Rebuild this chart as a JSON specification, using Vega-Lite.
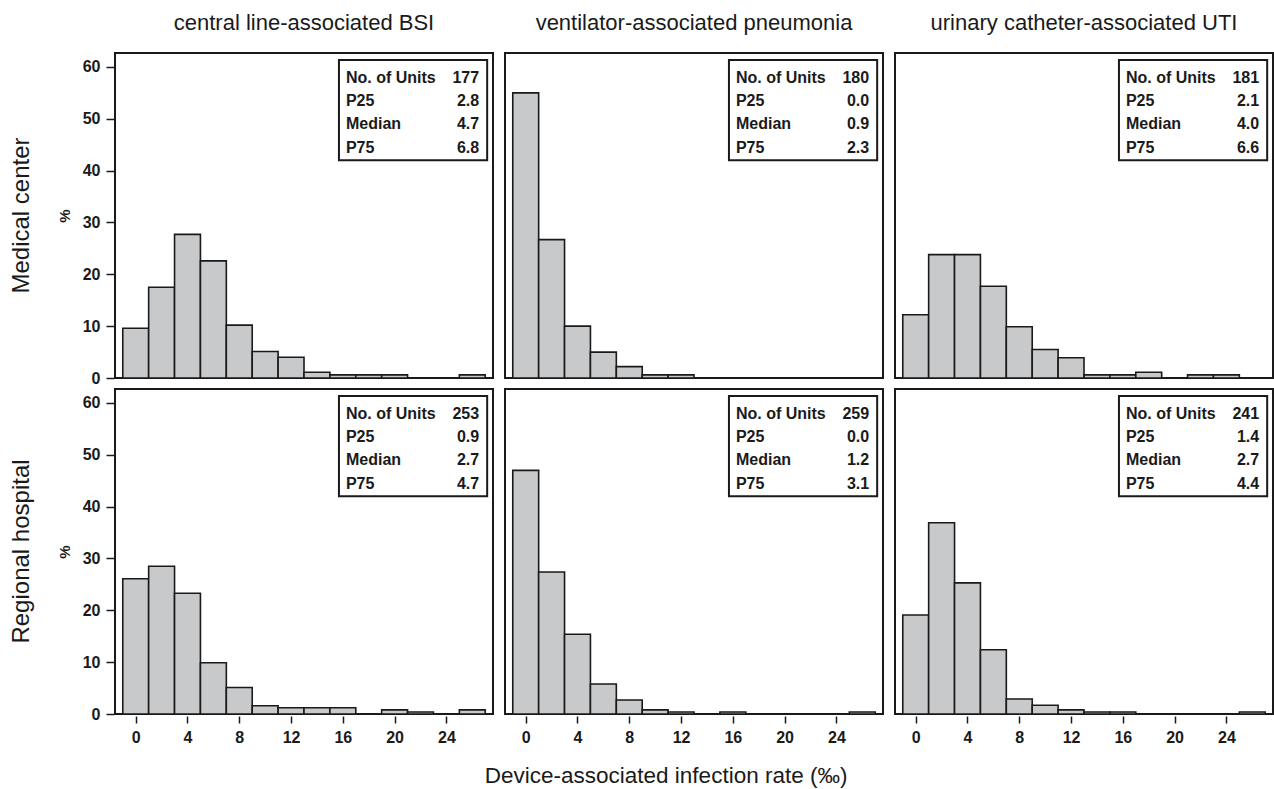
{
  "$schema": "https://vega.github.io/schema/vega-lite/v6.json",
  "padding": {"left": 10, "top": 12, "right": 2, "bottom": 4},
  "background": "white",
  "title": {"text": "Device-associated infection rate (‰)", "orient": "bottom", "anchor": "middle", "fontSize": 22.5, "fontWeight": "normal", "font": "Liberation Sans", "color": "#1a1a1a", "offset": 20, "dx": 24},
  "data": {"values": [
    {"kind": "bar", "facility": "Medical center", "device": "central line-associated BSI", "lo": -1, "hi": 1, "pct": 9.6},
    {"kind": "bar", "facility": "Medical center", "device": "central line-associated BSI", "lo": 1, "hi": 3, "pct": 17.5},
    {"kind": "bar", "facility": "Medical center", "device": "central line-associated BSI", "lo": 3, "hi": 5, "pct": 27.7},
    {"kind": "bar", "facility": "Medical center", "device": "central line-associated BSI", "lo": 5, "hi": 7, "pct": 22.6},
    {"kind": "bar", "facility": "Medical center", "device": "central line-associated BSI", "lo": 7, "hi": 9, "pct": 10.2},
    {"kind": "bar", "facility": "Medical center", "device": "central line-associated BSI", "lo": 9, "hi": 11, "pct": 5.1},
    {"kind": "bar", "facility": "Medical center", "device": "central line-associated BSI", "lo": 11, "hi": 13, "pct": 4.0},
    {"kind": "bar", "facility": "Medical center", "device": "central line-associated BSI", "lo": 13, "hi": 15, "pct": 1.1},
    {"kind": "bar", "facility": "Medical center", "device": "central line-associated BSI", "lo": 15, "hi": 17, "pct": 0.6},
    {"kind": "bar", "facility": "Medical center", "device": "central line-associated BSI", "lo": 17, "hi": 19, "pct": 0.6},
    {"kind": "bar", "facility": "Medical center", "device": "central line-associated BSI", "lo": 19, "hi": 21, "pct": 0.6},
    {"kind": "bar", "facility": "Medical center", "device": "central line-associated BSI", "lo": 25, "hi": 27, "pct": 0.6},
    {"kind": "bar", "facility": "Medical center", "device": "ventilator-associated pneumonia", "lo": -1, "hi": 1, "pct": 55.0},
    {"kind": "bar", "facility": "Medical center", "device": "ventilator-associated pneumonia", "lo": 1, "hi": 3, "pct": 26.7},
    {"kind": "bar", "facility": "Medical center", "device": "ventilator-associated pneumonia", "lo": 3, "hi": 5, "pct": 10.0},
    {"kind": "bar", "facility": "Medical center", "device": "ventilator-associated pneumonia", "lo": 5, "hi": 7, "pct": 5.0},
    {"kind": "bar", "facility": "Medical center", "device": "ventilator-associated pneumonia", "lo": 7, "hi": 9, "pct": 2.2},
    {"kind": "bar", "facility": "Medical center", "device": "ventilator-associated pneumonia", "lo": 9, "hi": 11, "pct": 0.6},
    {"kind": "bar", "facility": "Medical center", "device": "ventilator-associated pneumonia", "lo": 11, "hi": 13, "pct": 0.6},
    {"kind": "bar", "facility": "Medical center", "device": "urinary catheter-associated UTI", "lo": -1, "hi": 1, "pct": 12.2},
    {"kind": "bar", "facility": "Medical center", "device": "urinary catheter-associated UTI", "lo": 1, "hi": 3, "pct": 23.8},
    {"kind": "bar", "facility": "Medical center", "device": "urinary catheter-associated UTI", "lo": 3, "hi": 5, "pct": 23.8},
    {"kind": "bar", "facility": "Medical center", "device": "urinary catheter-associated UTI", "lo": 5, "hi": 7, "pct": 17.7},
    {"kind": "bar", "facility": "Medical center", "device": "urinary catheter-associated UTI", "lo": 7, "hi": 9, "pct": 9.9},
    {"kind": "bar", "facility": "Medical center", "device": "urinary catheter-associated UTI", "lo": 9, "hi": 11, "pct": 5.5},
    {"kind": "bar", "facility": "Medical center", "device": "urinary catheter-associated UTI", "lo": 11, "hi": 13, "pct": 3.9},
    {"kind": "bar", "facility": "Medical center", "device": "urinary catheter-associated UTI", "lo": 13, "hi": 15, "pct": 0.6},
    {"kind": "bar", "facility": "Medical center", "device": "urinary catheter-associated UTI", "lo": 15, "hi": 17, "pct": 0.6},
    {"kind": "bar", "facility": "Medical center", "device": "urinary catheter-associated UTI", "lo": 17, "hi": 19, "pct": 1.1},
    {"kind": "bar", "facility": "Medical center", "device": "urinary catheter-associated UTI", "lo": 21, "hi": 23, "pct": 0.6},
    {"kind": "bar", "facility": "Medical center", "device": "urinary catheter-associated UTI", "lo": 23, "hi": 25, "pct": 0.6},
    {"kind": "bar", "facility": "Regional hospital", "device": "central line-associated BSI", "lo": -1, "hi": 1, "pct": 26.1},
    {"kind": "bar", "facility": "Regional hospital", "device": "central line-associated BSI", "lo": 1, "hi": 3, "pct": 28.5},
    {"kind": "bar", "facility": "Regional hospital", "device": "central line-associated BSI", "lo": 3, "hi": 5, "pct": 23.3},
    {"kind": "bar", "facility": "Regional hospital", "device": "central line-associated BSI", "lo": 5, "hi": 7, "pct": 9.9},
    {"kind": "bar", "facility": "Regional hospital", "device": "central line-associated BSI", "lo": 7, "hi": 9, "pct": 5.1},
    {"kind": "bar", "facility": "Regional hospital", "device": "central line-associated BSI", "lo": 9, "hi": 11, "pct": 1.6},
    {"kind": "bar", "facility": "Regional hospital", "device": "central line-associated BSI", "lo": 11, "hi": 13, "pct": 1.2},
    {"kind": "bar", "facility": "Regional hospital", "device": "central line-associated BSI", "lo": 13, "hi": 15, "pct": 1.2},
    {"kind": "bar", "facility": "Regional hospital", "device": "central line-associated BSI", "lo": 15, "hi": 17, "pct": 1.2},
    {"kind": "bar", "facility": "Regional hospital", "device": "central line-associated BSI", "lo": 19, "hi": 21, "pct": 0.8},
    {"kind": "bar", "facility": "Regional hospital", "device": "central line-associated BSI", "lo": 21, "hi": 23, "pct": 0.4},
    {"kind": "bar", "facility": "Regional hospital", "device": "central line-associated BSI", "lo": 25, "hi": 27, "pct": 0.8},
    {"kind": "bar", "facility": "Regional hospital", "device": "ventilator-associated pneumonia", "lo": -1, "hi": 1, "pct": 47.0},
    {"kind": "bar", "facility": "Regional hospital", "device": "ventilator-associated pneumonia", "lo": 1, "hi": 3, "pct": 27.4},
    {"kind": "bar", "facility": "Regional hospital", "device": "ventilator-associated pneumonia", "lo": 3, "hi": 5, "pct": 15.4},
    {"kind": "bar", "facility": "Regional hospital", "device": "ventilator-associated pneumonia", "lo": 5, "hi": 7, "pct": 5.8},
    {"kind": "bar", "facility": "Regional hospital", "device": "ventilator-associated pneumonia", "lo": 7, "hi": 9, "pct": 2.7},
    {"kind": "bar", "facility": "Regional hospital", "device": "ventilator-associated pneumonia", "lo": 9, "hi": 11, "pct": 0.8},
    {"kind": "bar", "facility": "Regional hospital", "device": "ventilator-associated pneumonia", "lo": 11, "hi": 13, "pct": 0.4},
    {"kind": "bar", "facility": "Regional hospital", "device": "ventilator-associated pneumonia", "lo": 15, "hi": 17, "pct": 0.4},
    {"kind": "bar", "facility": "Regional hospital", "device": "ventilator-associated pneumonia", "lo": 25, "hi": 27, "pct": 0.4},
    {"kind": "bar", "facility": "Regional hospital", "device": "urinary catheter-associated UTI", "lo": -1, "hi": 1, "pct": 19.1},
    {"kind": "bar", "facility": "Regional hospital", "device": "urinary catheter-associated UTI", "lo": 1, "hi": 3, "pct": 36.9},
    {"kind": "bar", "facility": "Regional hospital", "device": "urinary catheter-associated UTI", "lo": 3, "hi": 5, "pct": 25.3},
    {"kind": "bar", "facility": "Regional hospital", "device": "urinary catheter-associated UTI", "lo": 5, "hi": 7, "pct": 12.4},
    {"kind": "bar", "facility": "Regional hospital", "device": "urinary catheter-associated UTI", "lo": 7, "hi": 9, "pct": 2.9},
    {"kind": "bar", "facility": "Regional hospital", "device": "urinary catheter-associated UTI", "lo": 9, "hi": 11, "pct": 1.7},
    {"kind": "bar", "facility": "Regional hospital", "device": "urinary catheter-associated UTI", "lo": 11, "hi": 13, "pct": 0.8},
    {"kind": "bar", "facility": "Regional hospital", "device": "urinary catheter-associated UTI", "lo": 13, "hi": 15, "pct": 0.4},
    {"kind": "bar", "facility": "Regional hospital", "device": "urinary catheter-associated UTI", "lo": 15, "hi": 17, "pct": 0.4},
    {"kind": "bar", "facility": "Regional hospital", "device": "urinary catheter-associated UTI", "lo": 25, "hi": 27, "pct": 0.4},
    {"kind": "stat", "facility": "Medical center", "device": "central line-associated BSI", "n": 177, "p25": 2.8, "median": 4.7, "p75": 6.8},
    {"kind": "stat", "facility": "Medical center", "device": "ventilator-associated pneumonia", "n": 180, "p25": 0.0, "median": 0.9, "p75": 2.3},
    {"kind": "stat", "facility": "Medical center", "device": "urinary catheter-associated UTI", "n": 181, "p25": 2.1, "median": 4.0, "p75": 6.6},
    {"kind": "stat", "facility": "Regional hospital", "device": "central line-associated BSI", "n": 253, "p25": 0.9, "median": 2.7, "p75": 4.7},
    {"kind": "stat", "facility": "Regional hospital", "device": "ventilator-associated pneumonia", "n": 259, "p25": 0.0, "median": 1.2, "p75": 3.1},
    {"kind": "stat", "facility": "Regional hospital", "device": "urinary catheter-associated UTI", "n": 241, "p25": 1.4, "median": 2.7, "p75": 4.4}
  ]},
  "facet": {
    "row": {"field": "facility", "type": "nominal", "title": null,
      "header": {"labelAngle": -90, "labelFontSize": 24, "labelFont": "Liberation Sans", "labelColor": "#1a1a1a", "labelPadding": 11}},
    "column": {"field": "device", "type": "nominal", "title": null,
      "sort": ["central line-associated BSI", "ventilator-associated pneumonia", "urinary catheter-associated UTI"],
      "header": {"labelFontSize": 22, "labelFont": "Liberation Sans", "labelColor": "#1a1a1a", "labelPadding": 17}}
  },
  "spacing": {"row": 8, "column": 10},
  "spec": {
    "width": 378,
    "height": 325,
    "layer": [
      {
        "transform": [{"filter": "datum.kind == 'bar'"}],
        "mark": {"type": "rect", "fill": "#c8c9cb", "stroke": "#1a1a1a", "strokeWidth": 1.6},
        "encoding": {
          "x": {"field": "lo", "type": "quantitative",
            "scale": {"domain": [-1.6, 27.6], "nice": false, "zero": false},
            "axis": {"title": null, "values": [0, 4, 8, 12, 16, 20, 24], "grid": false, "domain": false,
              "tickSize": 7, "tickWidth": 1.5, "tickColor": "#1a1a1a", "labelPadding": 6,
              "labelFontSize": 16, "labelFontWeight": "bold", "labelFont": "Liberation Sans", "labelColor": "#1a1a1a"}},
          "x2": {"field": "hi"},
          "y": {"field": "pct", "type": "quantitative",
            "scale": {"domain": [0, 62.7], "nice": false},
            "axis": {"title": "%", "values": [0, 10, 20, 30, 40, 50, 60], "grid": false, "domain": false,
              "tickSize": 8, "tickWidth": 1.5, "tickColor": "#1a1a1a", "labelPadding": 6,
              "labelFontSize": 16, "labelFontWeight": "bold", "labelFont": "Liberation Sans", "labelColor": "#1a1a1a",
              "titleFontSize": 15, "titleFontWeight": "bold", "titleFont": "Liberation Sans", "titleColor": "#1a1a1a", "titlePadding": 10}},
          "y2": {"datum": 0}
        }
      },
      {
        "transform": [{"filter": "datum.kind == 'stat'"}],
        "mark": {"type": "rect", "fill": "white", "stroke": "#1a1a1a", "strokeWidth": 2},
        "encoding": {
          "x": {"datum": 15.7},
          "x2": {"datum": 27.15},
          "y": {"datum": 61.35},
          "y2": {"datum": 42.0}
        }
      },
      {
        "transform": [{"filter": "datum.kind == 'stat'"}],
        "mark": {"type": "text", "align": "left", "baseline": "middle", "lineBreak": "\n", "lineHeight": 23.3,
          "font": "Liberation Sans", "fontSize": 16, "fontWeight": "bold", "color": "#1a1a1a"},
        "encoding": {
          "x": {"datum": 16.24},
          "y": {"datum": 57.93},
          "text": {"value": "No. of Units\nP25\nMedian\nP75"}
        }
      },
      {
        "transform": [
          {"filter": "datum.kind == 'stat'"},
          {"calculate": "format(datum.n,'d') + '\\n' + format(datum.p25,'.1f') + '\\n' + format(datum.median,'.1f') + '\\n' + format(datum.p75,'.1f')", "as": "vals"}
        ],
        "mark": {"type": "text", "align": "right", "baseline": "middle", "lineBreak": "\n", "lineHeight": 23.3,
          "font": "Liberation Sans", "fontSize": 16, "fontWeight": "bold", "color": "#1a1a1a"},
        "encoding": {
          "x": {"datum": 26.53},
          "y": {"datum": 57.93},
          "text": {"field": "vals", "type": "nominal"}
        }
      }
    ]
  },
  "config": {
    "view": {"stroke": "#1a1a1a", "strokeWidth": 2},
    "font": "Liberation Sans"
  }
}
